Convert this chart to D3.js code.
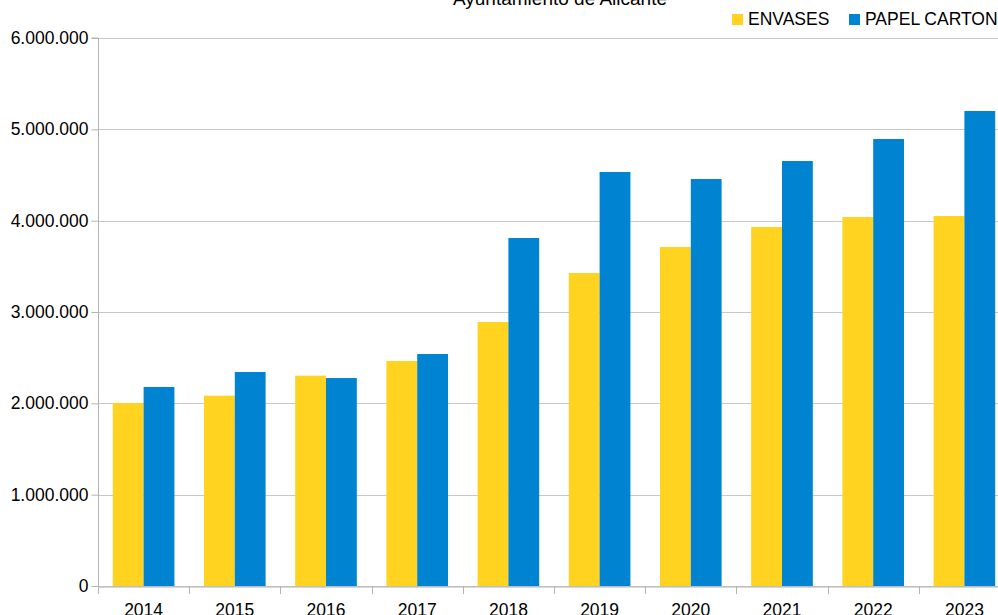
<!DOCTYPE html>
<html>
<head>
<meta charset="utf-8">
<script src="https://cdn.jsdelivr.net/npm/d3@7"></script>
<style>
  body { margin: 0; overflow: hidden; background: #fff; }
  text { font-family: "Liberation Sans", Arial, sans-serif; }
</style>
</head>
<body>
<div id="chart"></div>
<script>
// data
const years = ['2014', '2015', '2016', '2017', '2018', '2019', '2020', '2021', '2022', '2023'];
const envases = [2004000, 2084000, 2303000, 2464000, 2890000, 3427000, 3712000, 3931000, 4040000, 4051000];
const papelCarton = [2179000, 2343000, 2277000, 2540000, 3810000, 4533000, 4456000, 4653000, 4894000, 5201000];
const seriesNames = ['ENVASES', 'PAPEL CARTON'];
const colors = ['#ffd320', '#0084d1'];
const yTicks = [0, 1000000, 2000000, 3000000, 4000000, 5000000, 6000000];

const width = 1012;
const height = 615;
const margin = { top: 38, right: 2, bottom: 29, left: 98 };

const svg = d3.select('#chart')
    .append('svg')
    .attr('width', width)
    .attr('height', height);

const x0 = d3.scaleBand()
    .domain(years)
    .range([margin.left, width - margin.right])
    .padding(0);

const x1 = d3.scaleBand()
    .domain(seriesNames)
    .range([0, x0.bandwidth()])
    .paddingInner(0)
    .paddingOuter(0.48);

const y = d3.scaleLinear()
    .domain([0, 6000000])
    .range([height - margin.bottom, margin.top]);

const fmt = d3.formatLocale({ decimal: ',', thousands: '.', grouping: [3], currency: ['', ''] }).format(',d');

// grid lines
svg.append('g')
    .selectAll('line')
    .data(yTicks)
    .join('line')
    .attr('x1', margin.left)
    .attr('x2', width - margin.right)
    .attr('y1', d => Math.round(y(d)) + 0.5)
    .attr('y2', d => Math.round(y(d)) + 0.5)
    .attr('stroke', '#c8c8c8')
    .attr('stroke-width', 1);

// bars
const rows = years.map((yr, i) => ({ year: yr, values: [envases[i], papelCarton[i]] }));

svg.append('g')
    .selectAll('g')
    .data(rows)
    .join('g')
    .attr('transform', d => `translate(${x0(d.year)},0)`)
    .selectAll('rect')
    .data(d => d.values.map((v, k) => ({ name: seriesNames[k], value: v, k })))
    .join('rect')
    .attr('x', d => x1(d.name))
    .attr('width', x1.bandwidth())
    .attr('y', d => y(d.value))
    .attr('height', d => y(0) - y(d.value))
    .attr('fill', d => colors[d.k]);

// y axis
const yAxis = svg.append('g')
    .attr('transform', `translate(${margin.left + 0.5},0)`)
    .call(d3.axisLeft(y).tickValues(yTicks).tickFormat(fmt).tickSize(7).tickPadding(3));
yAxis.selectAll('line, path').attr('stroke', '#b3b3b3');
yAxis.select('.domain').attr('d', `M-7,${y(6000000)}H0V${y(0)}`);
yAxis.selectAll('text')
    .style('font-size', '17.5px')
    .attr('fill', '#000');

// x axis: labels centred, ticks on category boundaries
const xAxis = svg.append('g')
    .attr('transform', `translate(0,${Math.round(y(0)) + 0.5})`)
    .call(d3.axisBottom(x0).tickSize(0).tickPadding(17));
xAxis.select('.domain').attr('stroke', '#b3b3b3');
xAxis.selectAll('text')
    .style('font-size', '17.5px')
    .attr('fill', '#000');

svg.append('g')
    .selectAll('line')
    .data(years.map(d => x0(d)).concat([x0.range()[1]]))
    .join('line')
    .attr('x1', d => Math.round(d) + 0.5)
    .attr('x2', d => Math.round(d) + 0.5)
    .attr('y1', y(0))
    .attr('y2', y(0) + 8)
    .attr('stroke', '#b3b3b3');

// title (top is cut off in the original)
svg.append('text')
    .attr('x', 560)
    .attr('y', 5)
    .attr('text-anchor', 'middle')
    .style('font-size', '19px')
    .attr('fill', '#000')
    .text('Ayuntamiento de Alicante');

// legend
const legend = svg.append('g')
    .attr('transform', 'translate(732,14)');

const legendX = [0, 117];
seriesNames.forEach((name, i) => {
    legend.append('rect')
        .attr('x', legendX[i])
        .attr('y', 0)
        .attr('width', 11)
        .attr('height', 11)
        .attr('fill', colors[i]);
    legend.append('text')
        .attr('x', legendX[i] + 16)
        .attr('y', 11)
        .style('font-size', '17.5px')
        .attr('fill', '#000')
        .text(name);
});
</script>
</body>
</html>
